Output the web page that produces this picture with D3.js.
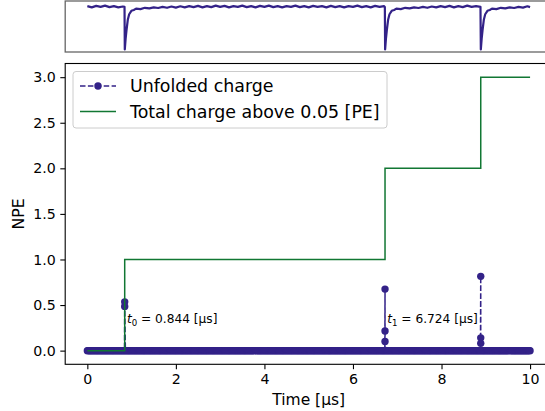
<!DOCTYPE html>
<html><head><meta charset="utf-8">
<script src="https://cdn.jsdelivr.net/npm/d3@7"></script>
<style>body{margin:0;background:#fff} svg{display:block;font-family:"DejaVu Sans",sans-serif}</style>
</head><body><svg id="c" width="545" height="411"></svg>
<script>
// ---------------- data ----------------
const pulseTimes = [0.844, 6.724, 8.886];
const unfoldedPulseValues = [[0.535, 0.485], [0.675, 0.215, 0.10], [0.815, 0.14, 0.08]];
const zeroSampleStart = 0, zeroSampleEnd = 10, zeroSampleStep = 0.02; // unfolded charge = 0 elsewhere
const stepTimes = [0, 0.844, 6.724, 8.886, 10];
const stepCharge = [0, 1, 2, 3];
const xTicks = [0, 2, 4, 6, 8, 10];
const yTicks = [0, 0.5, 1, 1.5, 2, 2.5, 3];
const annotTimes = [0.844, 6.724];
const annotSub = ["0", "1"];
const annotValue = ["0.844", "6.724"];
const annotLevel = 0.3;
const legendLabels = ["Unfolded charge", "Total charge above 0.05 [PE]"];
// waveform (top panel): [time µs, normalised amplitude]
const trace = [
  [0,0.01],[0.1,-0.02],[0.2,0.015],[0.3,-0.01],[0.4,0.02],[0.5,-0.015],[0.6,0.01],[0.7,-0.02],[0.8,0.0],[0.84,-0.01],
  [0.846,-1.0],[0.865,-0.75],[0.885,-0.55],[0.915,-0.3],[0.945,-0.18],[0.995,-0.1],[1.05,-0.08],[1.1,-0.05],[1.2,-0.06],
  [1.3,-0.03],[1.4,-0.045],[1.5,-0.02],[1.6,-0.035],[1.7,-0.01],[1.8,-0.03],[1.9,0.0],[2.0,-0.025],[2.1,0.005],[2.2,-0.02],
  [2.3,0.01],[2.4,-0.015],[2.5,0.015],[2.6,-0.02],[2.7,0.01],[2.8,-0.015],[2.9,0.02],[3.0,-0.01],[3.1,0.015],[3.2,-0.02],
  [3.3,0.01],[3.4,-0.01],[3.5,0.02],[3.6,-0.015],[3.7,0.01],[3.8,-0.02],[3.9,0.015],[4.0,-0.01],[4.1,0.02],[4.2,-0.015],
  [4.3,0.01],[4.4,-0.02],[4.5,0.01],[4.6,-0.01],[4.7,0.02],[4.8,-0.015],[4.9,0.01],[5.0,-0.02],[5.1,0.015],[5.2,-0.01],
  [5.3,0.01],[5.4,-0.02],[5.5,0.015],[5.6,-0.015],[5.7,0.01],[5.8,-0.02],[5.9,0.01],[6.0,-0.01],[6.1,0.02],[6.2,-0.015],
  [6.3,0.01],[6.4,-0.02],[6.5,0.015],[6.6,-0.01],[6.7,0.01],[6.72,-0.01],
  [6.726,-1.0],[6.745,-0.75],[6.765,-0.55],[6.795,-0.3],[6.825,-0.18],[6.875,-0.1],[6.93,-0.08],[6.98,-0.05],[7.08,-0.06],
  [7.18,-0.03],[7.28,-0.045],[7.38,-0.02],[7.48,-0.035],[7.58,-0.01],[7.68,-0.03],[7.78,0.0],[7.88,-0.02],[7.98,0.01],
  [8.08,-0.015],[8.18,0.015],[8.28,-0.02],[8.38,0.01],[8.48,-0.015],[8.58,0.02],[8.68,-0.01],[8.78,0.01],[8.88,-0.01],
  [8.888,-1.0],[8.907,-0.75],[8.927,-0.55],[8.957,-0.3],[8.987,-0.18],[9.037,-0.1],[9.09,-0.08],[9.14,-0.05],[9.24,-0.06],
  [9.34,-0.03],[9.44,-0.045],[9.54,-0.02],[9.64,-0.035],[9.74,-0.01],[9.84,-0.025],[9.94,0.005],[10.0,-0.015]
];

// ---------------- styles ----------------
const PURPLE = "#332288", GREEN = "#117733";
const svg = d3.select("#c");

const x = d3.scaleLinear().domain([-0.5, 10.5]).range([65.2, 552.2]);
const y = d3.scaleLinear().domain([-0.15, 3.15]).range([364.3, 63.5]);
const yTop = d3.scaleLinear().domain([-1, 0]).range([49.5, 6.5]);

// ---------- top panel ----------
svg.append("rect").attr("x", x.range()[0]).attr("y", 1).attr("width", x.range()[1] - x.range()[0]).attr("height", 51)
  .attr("fill", "none").attr("stroke", "#666").attr("stroke-width", 1.3);
svg.append("path").datum(trace)
  .attr("d", d3.line().x(d => x(d[0])).y(d => yTop(d[1])))
  .attr("fill", "none").attr("stroke", PURPLE).attr("stroke-width", 2.2).attr("stroke-linejoin", "round");

// ---------- main axes ----------
const g = svg.append("g");
const zeroTimes = d3.range(zeroSampleStart, zeroSampleEnd + 1e-9, zeroSampleStep);
let pts = zeroTimes.map(t => ({t, v: 0}));
pulseTimes.forEach((pt, i) => unfoldedPulseValues[i].forEach(v => pts.push({t: pt, v})));
pts = pts.map((p, i) => ({...p, i})).sort((a, b) => a.t - b.t || a.i - b.i);

g.append("path").datum(pts)
  .attr("d", d3.line().x(d => x(d.t)).y(d => y(d.v)))
  .attr("fill", "none").attr("stroke", PURPLE).attr("stroke-width", 1.5).attr("stroke-dasharray", "5.5,2.4");
g.selectAll("circle.u").data(pts).join("circle").attr("class", "u")
  .attr("cx", d => x(d.t)).attr("cy", d => y(d.v)).attr("r", 3.7).attr("fill", PURPLE);

// step line
const stepPts = stepCharge.map((c, i) => ({t: stepTimes[i], v: c}));
stepPts.push({t: stepTimes[stepTimes.length - 1], v: stepCharge[stepCharge.length - 1]});
g.append("path").datum(stepPts)
  .attr("d", d3.line().x(d => x(d.t)).y(d => y(d.v)).curve(d3.curveStepAfter))
  .attr("fill", "none").attr("stroke", GREEN).attr("stroke-width", 1.5);

// annotations
annotTimes.forEach((t, i) => {
  const tx = g.append("text").attr("x", x(t) + 2.2).attr("y", y(annotLevel))
    .attr("font-size", 12.2).attr("fill", "#000");
  tx.append("tspan").attr("font-style", "italic").text("t");
  tx.append("tspan").attr("font-size", 8.6).attr("dy", 2.5).text(annotSub[i]);
  tx.append("tspan").attr("dy", -2.5).text(" = " + annotValue[i] + " [µs]");
});

// frame
svg.append("rect").attr("x", x.range()[0]).attr("y", y.range()[1]).attr("width", x.range()[1] - x.range()[0])
  .attr("height", y.range()[0] - y.range()[1]).attr("fill", "none").attr("stroke", "#000").attr("stroke-width", 1.1);

// axes
const xAxis = svg.append("g").attr("transform", `translate(0,${y.range()[0]})`)
  .call(d3.axisBottom(x).tickValues(xTicks).tickFormat(d3.format("d")).tickSize(4.9).tickPadding(4.5));
const yAxis = svg.append("g").attr("transform", `translate(${x.range()[0]},0)`)
  .call(d3.axisLeft(y).tickValues(yTicks).tickFormat(d3.format(".1f")).tickSize(4.9).tickPadding(4.5));
[xAxis, yAxis].forEach(a => {
  a.select(".domain").remove();
  a.selectAll("line").attr("stroke", "#000").attr("stroke-width", 1.1);
  a.selectAll("text").attr("font-size", 14.2).attr("fill", "#000").attr("font-family", "DejaVu Sans");
});

svg.append("text").attr("x", (x.range()[0] + x.range()[1]) / 2).attr("y", 404.5)
  .attr("text-anchor", "middle").attr("font-size", 15.5).text("Time [µs]");
svg.append("text").attr("transform", `translate(24,${(y.range()[0] + y.range()[1]) / 2}) rotate(-90)`)
  .attr("text-anchor", "middle").attr("font-size", 15.8).text("NPE");

// legend
const lg = svg.append("g");
lg.append("rect").attr("x", 73).attr("y", 71.5).attr("width", 314).attr("height", 56.5).attr("rx", 3)
  .attr("fill", "#fff").attr("fill-opacity", 0.8).attr("stroke", "#ccc").attr("stroke-width", 1);
const rowY = [86, 111.5];
lg.append("line").attr("x1", 80).attr("x2", 116).attr("y1", rowY[0]).attr("y2", rowY[0])
  .attr("stroke", PURPLE).attr("stroke-width", 1.5).attr("stroke-dasharray", "5.5,2.4");
lg.append("circle").attr("cx", 98).attr("cy", rowY[0]).attr("r", 3.7).attr("fill", PURPLE);
lg.append("line").attr("x1", 80).attr("x2", 116).attr("y1", rowY[1]).attr("y2", rowY[1])
  .attr("stroke", GREEN).attr("stroke-width", 1.5);
legendLabels.forEach((l, i) => lg.append("text").attr("x", 130).attr("y", rowY[i] + 6)
  .attr("font-size", 17.4).attr("fill", "#000").text(l));
</script></body></html>
